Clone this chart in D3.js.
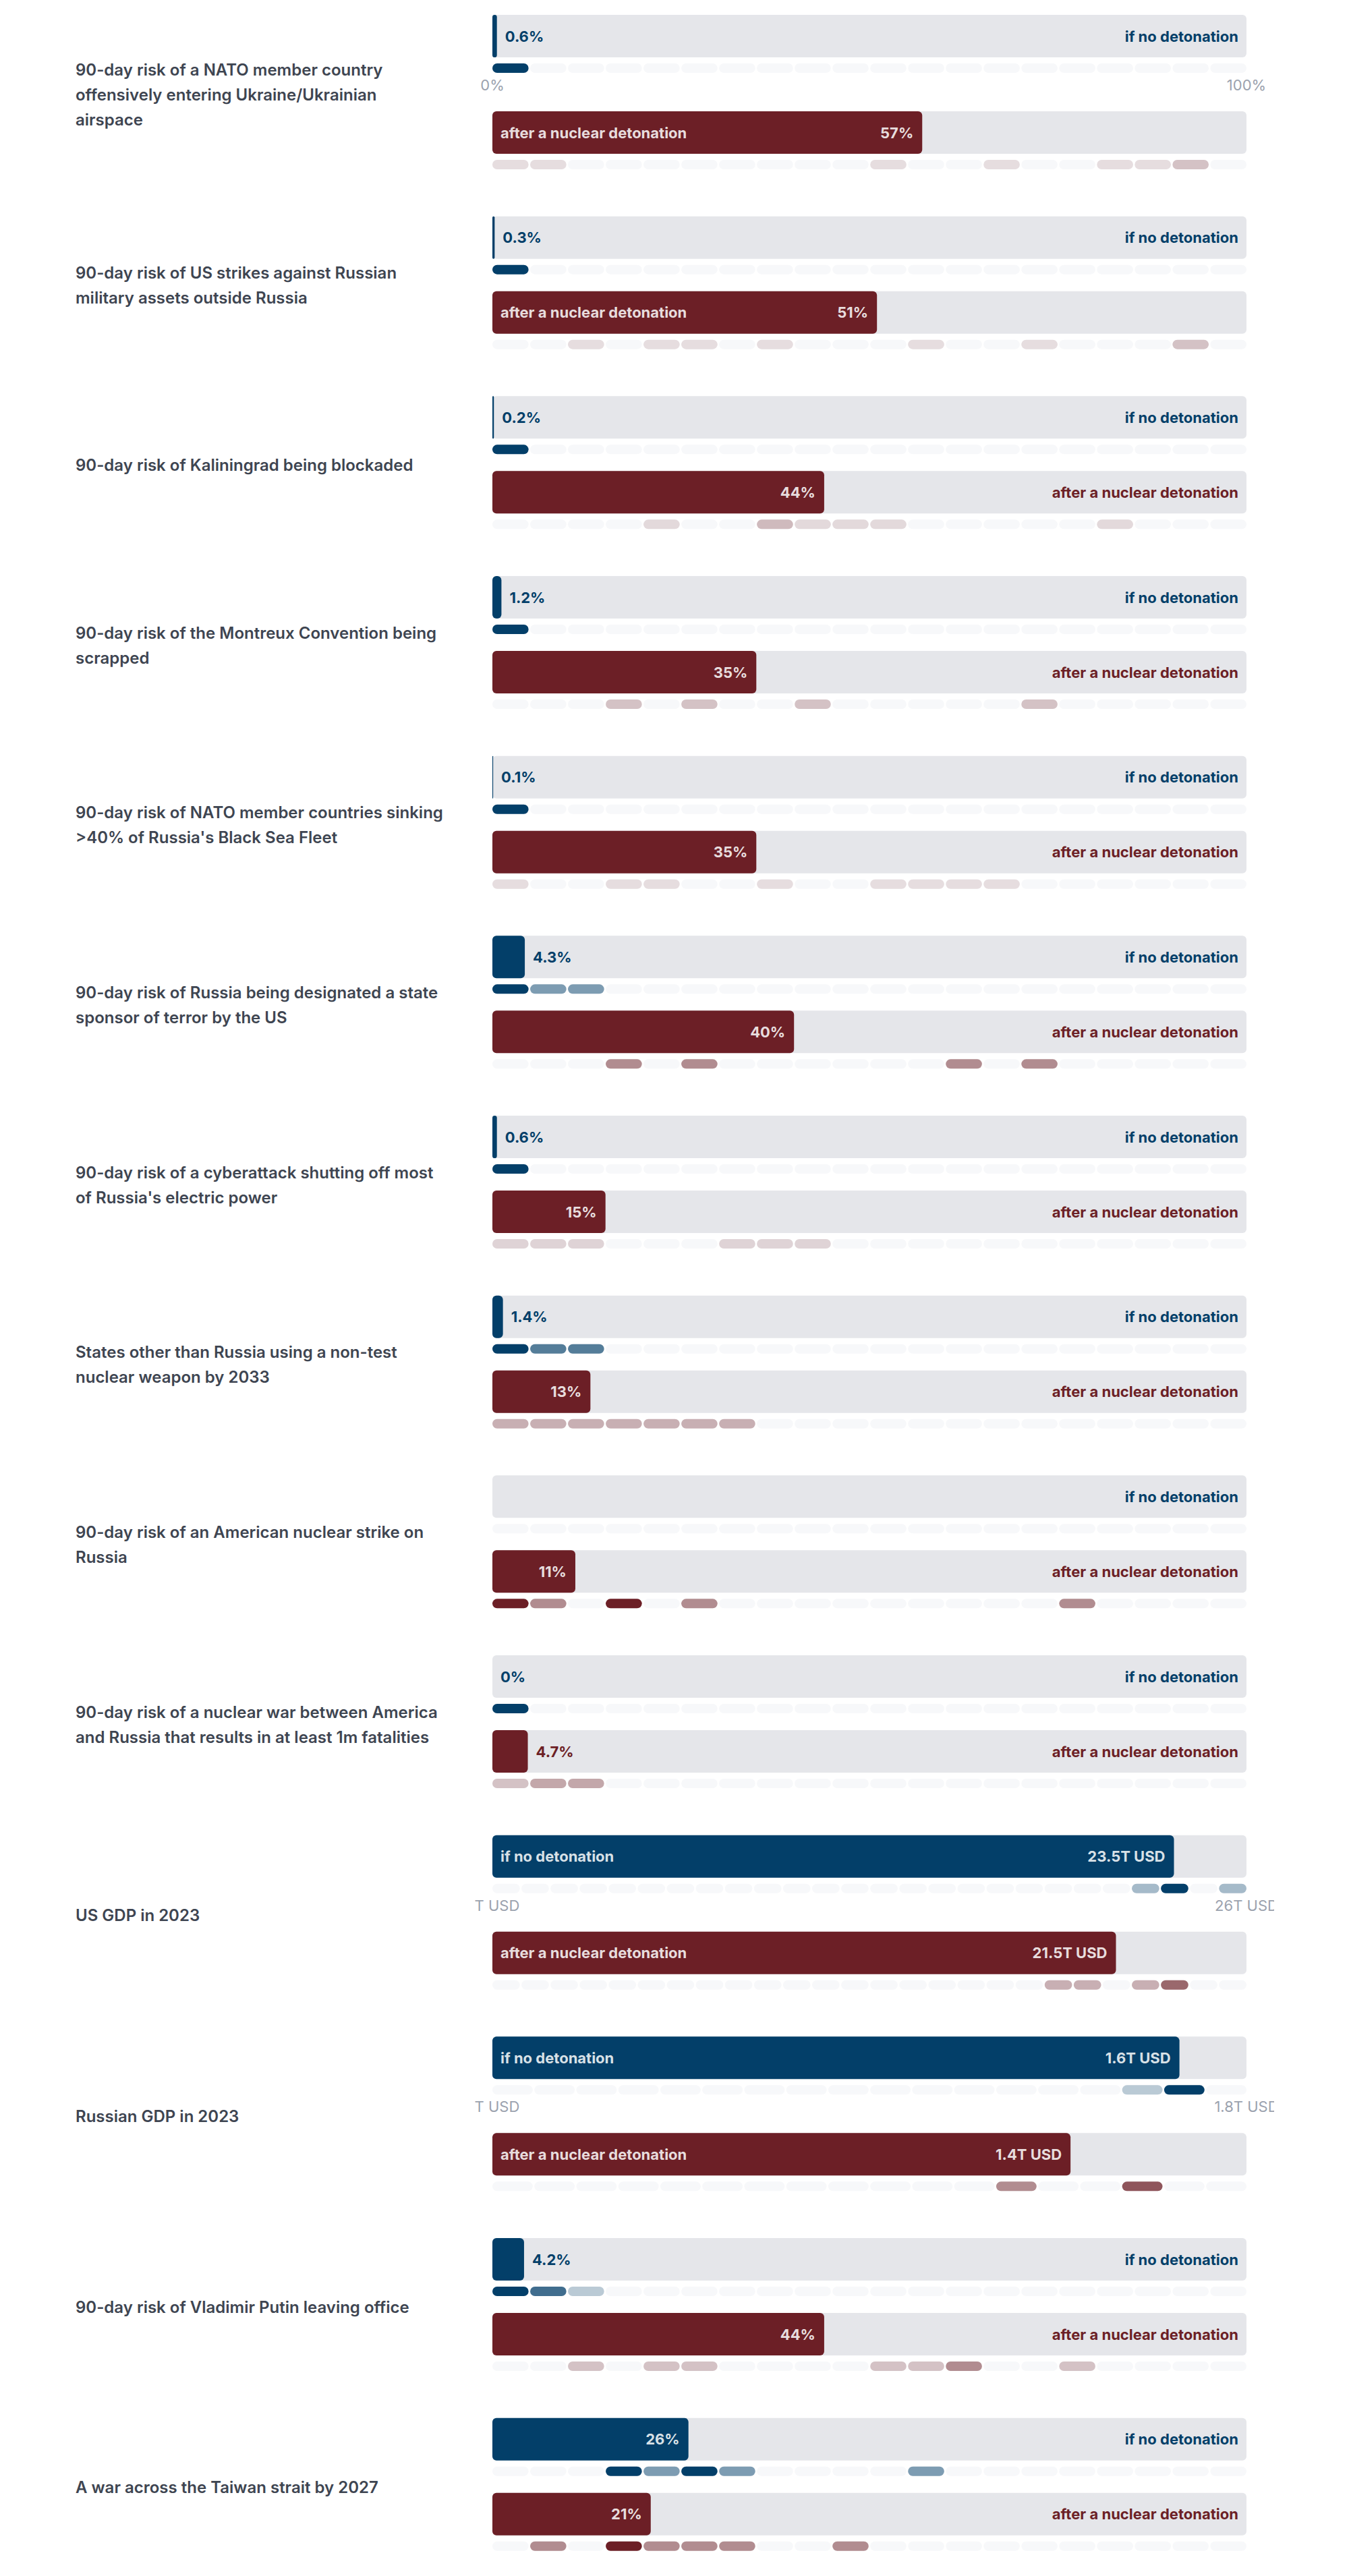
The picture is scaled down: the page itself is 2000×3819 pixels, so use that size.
<!DOCTYPE html>
<html>
<head>
<meta charset="utf-8">
<script src="https://cdn.jsdelivr.net/npm/d3@7"></script>
<style>
  html, body { margin: 0; padding: 0; background: #ffffff; }
  svg { display: block; font-family: Inter, "Noto Sans", "DejaVu Sans", sans-serif; }
</style>
</head>
<body>
<svg id="chart"></svg>
<script>
// ---------------- DATA ----------------
const questionLines = [
  ["90-day risk of a NATO member country", "offensively entering Ukraine/Ukrainian", "airspace"],
  ["90-day risk of US strikes against Russian", "military assets outside Russia"],
  ["90-day risk of Kaliningrad being blockaded"],
  ["90-day risk of the Montreux Convention being", "scrapped"],
  ["90-day risk of NATO member countries sinking", ">40% of Russia's Black Sea Fleet"],
  ["90-day risk of Russia being designated a state", "sponsor of terror by the US"],
  ["90-day risk of a cyberattack shutting off most", "of Russia's electric power"],
  ["States other than Russia using a non-test", "nuclear weapon by 2033"],
  ["90-day risk of an American nuclear strike on", "Russia"],
  ["90-day risk of a nuclear war between America", "and Russia that results in at least 1m fatalities"],
  ["US GDP in 2023"],
  ["Russian GDP in 2023"],
  ["90-day risk of Vladimir Putin leaving office"],
  ["A war across the Taiwan strait by 2027"]
];

const seriesNames = ["if no detonation", "after a nuclear detonation"];

const noDetonation    = [0.6, 0.3, 0.2, 1.2, 0.1, 4.3, 0.6, 1.4, null, 0, 23.5, 1.64, 4.2, 26];
const afterDetonation = [57, 51, 44, 35, 35, 40, 15, 13, 11, 4.7, 21.5, 1.38, 44, 21];

const units     = ["%", "%", "%", "%", "%", "%", "%", "%", "%", "%", "T USD", "T USD", "%", "%"];
const domainMax = [100, 100, 100, 100, 100, 100, 100, 100, 100, 100, 26, 1.8, 100, 100];

// axis tick labels (only shown on some questions)
const axisTicks = [
  ["0%", "100%"], null, null, null, null, null, null, null, null, null,
  ["0T USD", "26T USD"], ["0T USD", "1.8T USD"], null, null
];

// forecaster counts per bin (distribution strips)
const noDetCounts = [
  [8,0,0,0,0,0,0,0,0,0,0,0,0,0,0,0,0,0,0,0],
  [8,0,0,0,0,0,0,0,0,0,0,0,0,0,0,0,0,0,0,0],
  [7,0,0,0,0,0,0,0,0,0,0,0,0,0,0,0,0,0,0,0],
  [4,0,0,0,0,0,0,0,0,0,0,0,0,0,0,0,0,0,0,0],
  [8,0,0,0,0,0,0,0,0,0,0,0,0,0,0,0,0,0,0,0],
  [2,1,1,0,0,0,0,0,0,0,0,0,0,0,0,0,0,0,0,0],
  [6,0,0,0,0,0,0,0,0,0,0,0,0,0,0,0,0,0,0,0],
  [3,2,2,0,0,0,0,0,0,0,0,0,0,0,0,0,0,0,0,0],
  [0,0,0,0,0,0,0,0,0,0,0,0,0,0,0,0,0,0,0,0],
  [8,0,0,0,0,0,0,0,0,0,0,0,0,0,0,0,0,0,0,0],
  [0,0,0,0,0,0,0,0,0,0,0,0,0,0,0,0,0,0,0,0,0,0,1,3,0,1],
  [0,0,0,0,0,0,0,0,0,0,0,0,0,0,0,1,4,0],
  [4,3,1,0,0,0,0,0,0,0,0,0,0,0,0,0,0,0,0,0],
  [0,0,0,2,1,2,1,0,0,0,0,1,0,0,0,0,0,0,0,0]
];

const afterCounts = [
  [1,1,0,0,0,0,0,0,0,0,1,0,0,1,0,0,1,1,2,0],
  [0,0,1,0,1,1,0,1,0,0,0,1,0,0,1,0,0,0,2,0],
  [0,0,0,0,1,0,0,2,1,1,1,0,0,0,0,0,1,0,0,0],
  [0,0,0,1,0,1,0,0,1,0,0,0,0,0,1,0,0,0,0,0],
  [1,0,0,1,1,0,0,1,0,0,1,1,1,1,0,0,0,0,0,0],
  [0,0,0,1,0,1,0,0,0,0,0,0,1,0,1,0,0,0,0,0],
  [1,1,1,0,0,0,1,1,1,0,0,0,0,0,0,0,0,0,0,0],
  [1,1,1,1,1,1,1,0,0,0,0,0,0,0,0,0,0,0,0,0],
  [2,1,0,2,0,1,0,0,0,0,0,0,0,0,0,1,0,0,0,0],
  [2,3,3,0,0,0,0,0,0,0,0,0,0,0,0,0,0,0,0,0],
  [0,0,0,0,0,0,0,0,0,0,0,0,0,0,0,0,0,0,0,1,1,0,1,2,0,0],
  [0,0,0,0,0,0,0,0,0,0,0,0,2,0,0,3,0,0],
  [0,0,1,0,1,1,0,0,0,0,1,1,2,0,0,1,0,0,0,0],
  [0,1,0,2,1,1,1,0,0,1,0,0,0,0,0,0,0,0,0,0]
];

// ---------------- LAYOUT / STYLE ----------------
const W = 2000, H = 3819;
const X0 = 730, X1 = 1848;
const LABEL_X = 112;
const FIRST_TOP = 22;
const BAR_H = 63;
const STRIP_OFF = 72, STRIP_H = 14;
const SECOND_OFF = 111, AXIS_EXTRA = 32;
const ROW_PITCH = 266.67;
const CELL_GAP = 2.4;
const CLIP_L = 704, CLIP_R = 1889;

const BLUE = "#033f69", RED = "#6c1f26";
const TRACK = "#e5e6ea", EMPTY = "#f7f8fa";
const INSIDE_TXT = "rgba(255,255,255,0.86)";
const LABEL_COLOR = "#3e4551", AXIS_COLOR = "#9ba2ae";

const svg = d3.select("#chart").attr("width", W).attr("height", H)
  .attr("viewBox", `0 0 ${W} ${H}`);

svg.append("defs").append("clipPath").attr("id", "axisClip")
  .append("rect").attr("x", CLIP_L).attr("y", 0).attr("width", CLIP_R - CLIP_L).attr("height", H);

function fmt(v, unit) {
  if (unit === "%") {
    if (v === 0) return "0%";
    return (v >= 10 ? d3.format(".0f")(v) : d3.format(".1f")(v)) + "%";
  }
  return d3.format(".1f")(v) + unit;
}

let rowTop = FIRST_TOP;
questionLines.forEach((lines, i) => {
  const hasAxis = !!axisTicks[i];
  const g = svg.append("g");
  const x = d3.scaleLinear().domain([0, domainMax[i]]).range([X0, X1]);
  const nBins = noDetCounts[i].length;
  const band = d3.scaleBand().domain(d3.range(nBins)).range([X0, X1])
    .paddingInner(CELL_GAP / ((X1 - X0) / nBins)).paddingOuter(0);
  const maxCount = d3.max(noDetCounts[i].concat(afterCounts[i]));

  const secondTop = rowTop + SECOND_OFF + (hasAxis ? AXIS_EXTRA : 0);
  const contentH = secondTop - rowTop + STRIP_OFF + STRIP_H;

  // question label
  const cy = rowTop + contentH / 2 + 4;
  const lineH = 37;
  g.append("text").attr("fill", LABEL_COLOR)
    .style("font-size", "24px").style("font-weight", 600)
    .selectAll("tspan").data(lines).join("tspan")
    .attr("x", LABEL_X)
    .attr("y", (d, k) => cy + (k - (lines.length - 1) / 2) * lineH + 8.5)
    .text(d => d);

  const series = [
    { name: seriesNames[0], value: noDetonation[i], counts: noDetCounts[i], color: BLUE, y: rowTop },
    { name: seriesNames[1], value: afterDetonation[i], counts: afterCounts[i], color: RED, y: secondTop }
  ];

  series.forEach(s => {
    const sg = g.append("g");
    // track
    sg.append("rect").attr("x", X0).attr("y", s.y).attr("width", X1 - X0).attr("height", BAR_H)
      .attr("rx", 6).attr("fill", TRACK);
    // value bar
    const hasVal = s.value !== null && s.value !== undefined;
    const bw = hasVal ? x(s.value) - x(0) : 0;
    if (hasVal && bw > 0) {
      sg.append("rect").attr("x", x(0)).attr("y", s.y).attr("width", bw).attr("height", BAR_H)
        .attr("rx", Math.min(6, bw / 2)).attr("fill", s.color);
    }
    const ty = s.y + BAR_H / 2 + 8;
    const labelInside = hasVal && s.value / domainMax[i] > 0.5;
    // series label
    const lab = sg.append("text").attr("y", ty)
      .style("font-size", "22px").style("font-weight", 700).text(s.name);
    if (labelInside) {
      lab.attr("x", x(0) + 12).attr("fill", INSIDE_TXT);
    } else {
      lab.attr("x", X1 - 12).attr("text-anchor", "end").attr("fill", s.color);
    }
    // value label
    if (hasVal) {
      const vt = sg.append("text").attr("y", ty)
        .style("font-size", "22px").style("font-weight", 700).text(fmt(s.value, units[i]));
      const tw = vt.node().getComputedTextLength();
      if (bw > tw + 26) {
        vt.attr("x", x(s.value) - 13).attr("text-anchor", "end").attr("fill", INSIDE_TXT);
      } else {
        vt.attr("x", x(s.value) + 12).attr("fill", s.color);
      }
    }
    // distribution strip
    const sy = s.y + STRIP_OFF;
    sg.selectAll("rect.bg").data(s.counts).join("rect").attr("class", "bg")
      .attr("x", (d, k) => band(k)).attr("y", sy).attr("width", band.bandwidth()).attr("height", STRIP_H)
      .attr("rx", STRIP_H / 2).attr("fill", EMPTY);
    sg.selectAll("rect.cell").data(s.counts.map((c, k) => ({ c, k })).filter(d => d.c > 0))
      .join("rect").attr("class", "cell")
      .attr("x", d => band(d.k)).attr("y", sy).attr("width", band.bandwidth()).attr("height", STRIP_H)
      .attr("rx", STRIP_H / 2).attr("fill", s.color).attr("fill-opacity", d => d.c / maxCount);
  });

  // axis tick labels
  if (hasAxis) {
    const ag = g.append("g").attr("clip-path", "url(#axisClip)");
    ag.selectAll("text").data(axisTicks[i]).join("text")
      .attr("x", (d, k) => x(k === 0 ? 0 : domainMax[i]))
      .attr("y", rowTop + STRIP_OFF + STRIP_H + 26)
      .attr("text-anchor", "middle").attr("fill", AXIS_COLOR)
      .style("font-size", "22px").style("font-weight", 400)
      .text(d => d);
  }

  rowTop += ROW_PITCH + (hasAxis ? AXIS_EXTRA : 0);
});
</script>
</body>
</html>
